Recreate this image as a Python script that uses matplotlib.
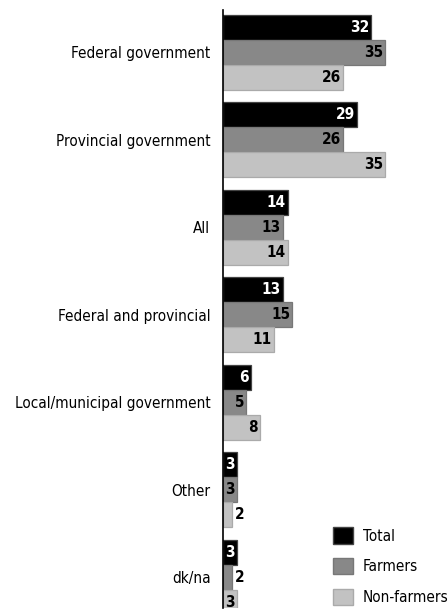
import matplotlib
matplotlib.use('Agg')
import matplotlib.pyplot as plt
from matplotlib.patches import Patch

plt.rcParams['font.family'] = ['DejaVu Sans']
plt.rcParams['font.stretch'] = 'condensed'

## Chart data
categories = ['Federal government', 'Provincial government', 'All',
              'Federal and provincial', 'Local/municipal government',
              'Other', 'dk/na']
total = [32, 29, 14, 13, 6, 3, 3]
farmers = [35, 26, 13, 15, 5, 3, 2]
non_farmers = [26, 35, 14, 11, 8, 2, 3]
series_names = ['Total', 'Farmers', 'Non-farmers']
colors = ['#000000', '#888888', '#c2c2c2']
edges = ['#444444', '#777777', '#aaaaaa']
text_colors = ['white', 'black', 'black']

fig = plt.figure(figsize=(4.48, 6.14), dpi=100)
ax = fig.add_axes([0.4978, 0.0098, 0.4955, 0.974])

gap = 3.5
centers = [i * gap for i in range(len(categories))]
series = [total, farmers, non_farmers]
for s, vals in enumerate(series):
    ys = [c + (s - 1) for c in centers]
    ax.barh(ys, vals, height=1.0, color=colors[s], edgecolor=edges[s],
            linewidth=0.9, label=series_names[s])
    for y, v in zip(ys, vals):
        if v <= 2:
            ax.annotate(str(v), (v, y), xytext=(2, 0), textcoords='offset points',
                        ha='left', va='center', fontsize=11, fontweight='bold',
                        color='black')
        else:
            ax.annotate(str(v), (v, y), xytext=(-1.5, 0), textcoords='offset points',
                        ha='right', va='center', fontsize=11, fontweight='bold',
                        color=text_colors[s])

ax.set_xlim(0, 48)
ax.set_ylim(22.22, -1.7)
ax.set_yticks(centers)
ax.set_yticklabels(categories, fontsize=11)
ax.tick_params(axis='y', length=0, pad=9)
ax.set_xticks([])
for side in ['top', 'right', 'bottom']:
    ax.spines[side].set_visible(False)
ax.spines['left'].set_linewidth(1.2)

handles = [Patch(facecolor=colors[i], edgecolor=edges[i], label=series_names[i])
           for i in range(3)]
fig.legend(handles=handles, loc='lower left', bbox_to_anchor=(0.712, -0.008),
           frameon=False, fontsize=11, handlelength=1.3, handleheight=1.25,
           handletextpad=0.65, labelspacing=0.95)

plt.savefig('out.png', dpi=100)
